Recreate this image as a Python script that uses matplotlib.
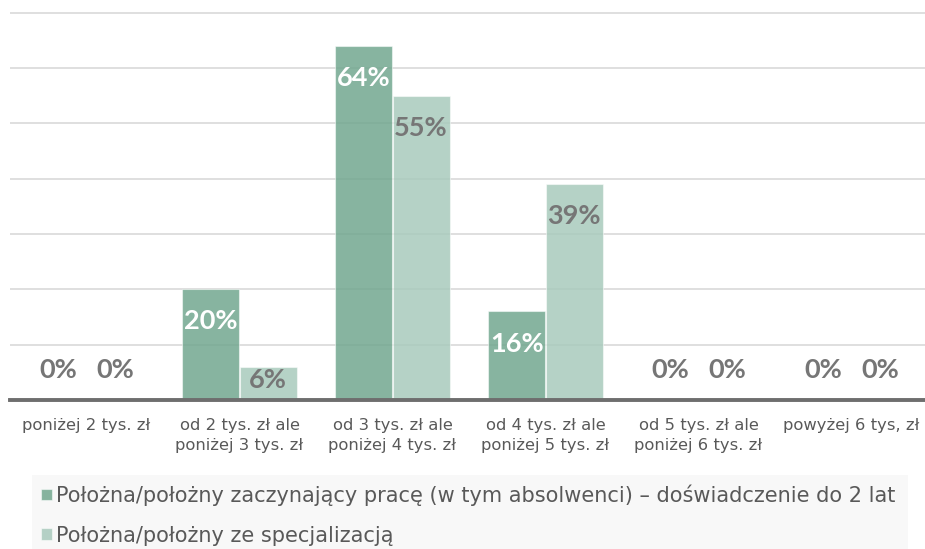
import matplotlib
matplotlib.use("Agg")
import matplotlib.pyplot as plt
import numpy as np

categories = ["poniżej 2 tys. zł",
              "od 2 tys. zł ale\nponiżej 3 tys. zł",
              "od 3 tys. zł ale\nponiżej 4 tys. zł",
              "od 4 tys. zł ale\nponiżej 5 tys. zł",
              "od 5 tys. zł ale\nponiżej 6 tys. zł",
              "powyżej 6 tys, zł"]
series_names = ["Położna/położny zaczynający pracę (w tym absolwenci) – doświadczenie do 2 lat",
                "Położna/położny ze specjalizacją"]
start_vals = [0, 20, 64, 16, 0, 0]
spec_vals = [0, 6, 55, 39, 0, 0]

W, H = 925, 549
fig = plt.figure(figsize=(W / 100, H / 100), dpi=100)
ax = fig.add_axes([10 / W, (H - 400) / H, 915 / W, 388 / H])

x = np.arange(len(categories))
bw = 0.372
off = 0.187
c_dark = (0x72 / 255, 0xA7 / 255, 0x8F / 255, 0.85)
c_light = (0xA8 / 255, 0xCA / 255, 0xBC / 255, 0.85)

b1 = ax.bar(x - off, start_vals, bw, color=c_dark, edgecolor=(1, 1, 1, 0.5), linewidth=0.8, zorder=3,
            label=series_names[0])
b2 = ax.bar(x + off, spec_vals, bw, color=c_light, edgecolor=(1, 1, 1, 0.5), linewidth=0.8, zorder=3,
            label=series_names[1])

ax.set_ylim(0, 70.1)
ax.set_xlim(-0.5, -0.5 + 915 / 153)
ax.set_yticks(np.arange(0, 71, 10))
ax.yaxis.grid(True, color="#D9D9D9", linewidth=1.2, zorder=0)
ax.set_axisbelow(True)
for s in ["top", "right", "left"]:
    ax.spines[s].set_visible(False)
ax.spines["bottom"].set_color("#6E6E6E")
ax.spines["bottom"].set_linewidth(2.8)
ax.spines["bottom"].set_zorder(5)
ax.tick_params(axis="y", left=False, labelleft=False)
ax.tick_params(axis="x", bottom=False, pad=9.5, labelsize=11.8, labelcolor="#595959")
ax.set_xticks(x)
ax.set_xticklabels(categories, linespacing=1.45)

lab_font = dict(family=["Lato", "DejaVu Sans"], fontsize=19.5, fontweight="bold", ha="center", va="center",
                zorder=6)

def label_y(v):
    if v == 0:
        return 5.4
    if v < 12:
        return v * 0.6
    return v - 5.8

for xi, v in zip(x - off, start_vals):
    ax.text(xi, label_y(v), f"{v}%", color="white" if v > 0 else "#767676", **lab_font)
for xi, v in zip(x + off, spec_vals):
    ax.text(xi, label_y(v), f"{v}%", color="#767676", **lab_font)

leg = fig.legend(handles=[b1, b2], labels=series_names, loc="upper left",
                 bbox_to_anchor=(32 / W, 1 - 475 / H, 876 / W, 0.0), mode="expand",
                 ncol=1, frameon=True, fancybox=False, fontsize=15.0, labelcolor="#595959",
                 handlelength=0.5, handleheight=0.5, handletextpad=0.2, labelspacing=0.95,
                 borderpad=0.45, borderaxespad=0)
leg.get_frame().set_facecolor("#F7F7F7")
leg.get_frame().set_edgecolor("none")

fig.savefig("out.png", dpi=100)
